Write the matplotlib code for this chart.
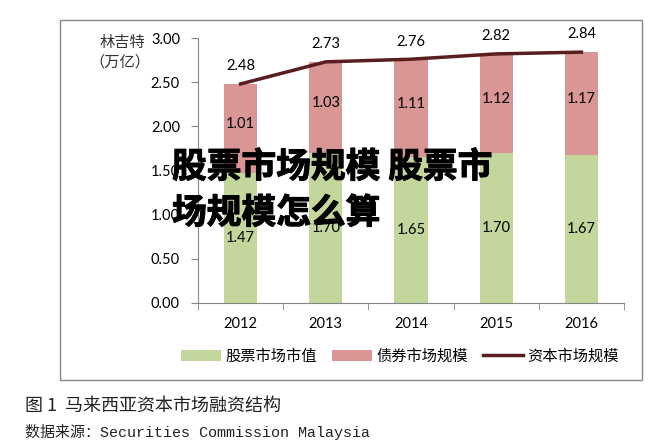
import numpy as np
import matplotlib.pyplot as plt
import matplotlib.patheffects as pe
from matplotlib.patches import Rectangle

plt.rcParams['font.family'] = ['Lato', 'Noto Sans CJK SC', 'DejaVu Sans']

years = ['2012', '2013', '2014', '2015', '2016']
stock = [1.47, 1.70, 1.65, 1.70, 1.67]
bond = [1.01, 1.03, 1.11, 1.12, 1.17]
total = [2.48, 2.73, 2.76, 2.82, 2.84]
yticks = [0.00, 0.50, 1.00, 1.50, 2.00, 2.50, 3.00]

green = '#c3d69b'
pink = '#d99694'
maroon = '#5a1e1e'
grey = '#868686'

fig = plt.figure(figsize=(6.68, 4.41), dpi=100)
fig.patch.set_facecolor('white')

# rahmen um das diagramm
fig.patches.append(Rectangle((60 / 668, 1 - 380 / 441), 582 / 668, 360 / 441,
                             transform=fig.transFigure, fill=False,
                             edgecolor=grey, linewidth=1.0))

ax = fig.add_axes([198 / 668, 1 - 303 / 441, 426 / 668, 265 / 441])
x = np.arange(len(years))
b1 = ax.bar(x, stock, width=0.39, color=green, label='股票市场市值')
b2 = ax.bar(x, bond, width=0.39, bottom=stock, color=pink, label='债券市场规模')
l1, = ax.plot(x, total, color=maroon, linewidth=2.5, label='资本市场规模')

for i in range(len(years)):
    ax.text(x[i], stock[i] / 2, f'{stock[i]:.2f}', ha='center', va='center', fontsize=10.5)
    ax.text(x[i], stock[i] + bond[i] / 2 + 0.05, f'{bond[i]:.2f}', ha='center', va='center', fontsize=10.5)
    ax.text(x[i], total[i] + 0.2, f'{total[i]:.2f}', ha='center', va='center', fontsize=10.5)

ax.set_xlim(-0.5, len(years) - 0.5)
ax.set_ylim(0, 3.0)
ax.set_yticks(yticks)
ax.set_yticklabels([f'{v:.2f}' for v in yticks], fontsize=10.5)
ax.set_xticks(x)
ax.set_xticklabels(years, fontsize=10.5)
ax.set_xticks(np.arange(-0.5, len(years)), minor=True)
ax.tick_params(axis='x', which='major', length=0, pad=10)
ax.tick_params(axis='x', which='minor', length=5, color=grey, direction='out')
ax.tick_params(axis='y', length=5, color=grey, pad=8)
for s in ['top', 'right']:
    ax.spines[s].set_visible(False)
for s in ['left', 'bottom']:
    ax.spines[s].set_color(grey)

fig.text(122 / 668, 1 - 42 / 441, '林吉特', ha='center', va='center', fontsize=11,
         family=['Noto Sans CJK SC'], color='#333333')
fig.text(120 / 668, 1 - 62 / 441, '（万亿）', ha='center', va='center', fontsize=11,
         family=['Noto Sans CJK SC'], color='#333333')

fig.legend([b1, b2, l1], ['股票市场市值', '债券市场规模', '资本市场规模'],
           loc='center', bbox_to_anchor=(400 / 668, 1 - 356 / 441), ncol=3,
           frameon=False, prop={'family': 'Noto Sans CJK SC', 'size': 11},
           handlelength=2.6, columnspacing=1.0, handletextpad=0.3)

# wasserzeichen
stroke = [pe.withStroke(linewidth=0.8, foreground='black')]
fig.text(172 / 668, 1 - 167 / 441, '股票市场规模 股票市', ha='left', va='center',
         fontsize=25, fontweight='heavy', family=['Noto Sans CJK SC'], color='black',
         path_effects=stroke)
fig.text(172 / 668, 1 - 213 / 441, '场规模怎么算', ha='left', va='center',
         fontsize=25, fontweight='heavy', family=['Noto Sans CJK SC'], color='black',
         path_effects=stroke)

fig.text(25 / 668, 1 - 406 / 441, '图 1  马来西亚资本市场融资结构', ha='left', va='center',
         fontsize=13, family=['Noto Sans CJK SC'], color='#222222')
fig.text(25 / 668, 1 - 432 / 441, '数据来源：Securities Commission Malaysia', ha='left', va='center',
         fontsize=10.8, family=['Liberation Mono', 'Noto Sans CJK SC'], color='#222222')

fig.savefig('out.png', dpi=100)
